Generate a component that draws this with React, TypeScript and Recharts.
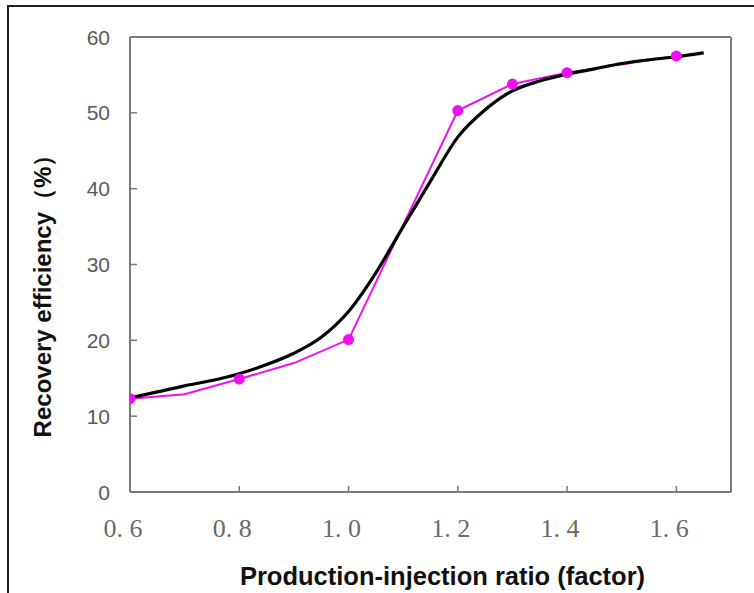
import { LineChart, Line, XAxis, YAxis, ReferenceLine } from 'recharts'

// Production-injection ratio vs recovery efficiency
const ratioTicks = [0.6, 0.8, 1.0, 1.2, 1.4, 1.6]
const recoveryTicks = [0, 10, 20, 30, 40, 50, 60]

// measured points (drawn with markers)
const measuredRatio = [0.6, 0.8, 1.0, 1.2, 1.3, 1.4, 1.6]

// magenta polyline (measured + intermediate trend points)
const simRatio = [0.6, 0.7, 0.8, 0.9, 1.0, 1.2, 1.3, 1.4, 1.6]
const simRecovery = [12.3, 12.9, 14.9, 17.0, 20.1, 50.3, 53.8, 55.3, 57.5]

// fitted curve
const fitRatio = [0.6, 0.65, 0.7, 0.75, 0.8, 0.85, 0.9, 0.95, 1.0, 1.05, 1.1, 1.15, 1.2, 1.25, 1.3, 1.35, 1.4, 1.45, 1.5, 1.55, 1.6, 1.65]
const fitRecovery = [12.4, 13.2, 14.0, 14.7, 15.6, 16.8, 18.3, 20.4, 23.8, 28.9, 35.0, 41.0, 46.8, 50.4, 52.9, 54.2, 55.1, 55.8, 56.5, 57.0, 57.4, 57.9]

const simData = simRatio.map((x, i) => ({ x, y: simRecovery[i] }))
const fitData = fitRatio.map((x, i) => ({ x, y: fitRecovery[i] }))

const AXIS = '#7a7a7a'
const MAGENTA = '#ee10ee'

const XTick = (props: any) => {
  const { x, y, payload } = props
  const label = Number(payload.value).toFixed(1).replace('.', '. ')
  return (
    <g>
      {payload.value > 0.6 && <line x1={x} x2={x} y1={y - 44} y2={y - 51} stroke={AXIS} strokeWidth={1.5} />}
      <text x={x - 7} y={y} textAnchor="middle" fill="#6a6a6a" fontSize={26} fontFamily="Liberation Serif">
        {label}
      </text>
    </g>
  )
}

const YTick = (props: any) => {
  const { x, y, payload } = props
  return (
    <g>
      {payload.value > 0 && payload.value < 60 && <line x1={x + 19} x2={x + 27} y1={y} y2={y} stroke={AXIS} strokeWidth={1.5} />}
      <text x={x} y={y} dy="0.36em" textAnchor="end" fill="#5a5a5a" fontSize={21} fontFamily="Liberation Sans">
        {payload.value}
      </text>
    </g>
  )
}

const MeasuredDot = (props: any) => {
  const { cx, cy, payload, index } = props
  if (!measuredRatio.includes(payload.x)) return <g key={index} />
  return <circle key={index} cx={cx} cy={cy} r={5.5} fill={MAGENTA} stroke="none" />
}

export default function App() {
  return (
    <div style={{ position: 'absolute', left: 0, top: 0, width: 754, height: 593, background: '#fff' }}>
      <div style={{ position: 'absolute', left: 7, top: 5, right: 0, bottom: 0, borderTop: '2px solid #222', borderLeft: '2px solid #222' }} />
      <div style={{ position: 'absolute', left: 0, top: 0 }}>
        <LineChart width={754} height={593} margin={{ top: 37, right: 23, bottom: 8, left: 10 }}>
          <XAxis
            type="number"
            dataKey="x"
            domain={[0.6, 1.7]}
            ticks={ratioTicks}
            allowDataOverflow
            stroke={AXIS}
            strokeWidth={2}
            tickLine={false}
            tickSize={0}
            tickMargin={45}
            height={93}
            tick={<XTick />}
            label={{
              value: 'Production-injection ratio (factor)',
              position: 'insideBottom',
              offset: 0,
              dx: 12,
              fill: '#111',
              fontSize: 25.5,
              fontWeight: 'bold',
              fontFamily: 'Liberation Sans',
            }}
          />
          <YAxis
            type="number"
            domain={[0, 60]}
            ticks={recoveryTicks}
            stroke={AXIS}
            strokeWidth={2}
            tickLine={false}
            tickSize={0}
            tickMargin={20}
            width={120}
            tick={<YTick />}
            label={{
              content: () => (
                <text
                  x={42}
                  y={290}
                  transform="rotate(-90 42 290)"
                  textAnchor="middle"
                  dominantBaseline="central"
                  fill="#111"
                  fontSize={24}
                  fontWeight="bold"
                  fontFamily="Liberation Sans"
                >
                  Recovery efficiency（%）
                </text>
              ),
            }}
          />
          {/* plot box: top and right edges */}
          <ReferenceLine y={60} stroke={AXIS} strokeWidth={2} />
          <ReferenceLine x={1.7} stroke={AXIS} strokeWidth={2} />
          <Line
            data={simData}
            dataKey="y"
            type="linear"
            stroke={MAGENTA}
            strokeWidth={2}
            dot={<MeasuredDot />}
            activeDot={false}
            isAnimationActive={false}
          />
          <Line
            data={fitData}
            dataKey="y"
            type="monotone"
            stroke="#000"
            strokeWidth={3.2}
            dot={false}
            activeDot={false}
            isAnimationActive={false}
          />
        </LineChart>
      </div>
    </div>
  )
}
